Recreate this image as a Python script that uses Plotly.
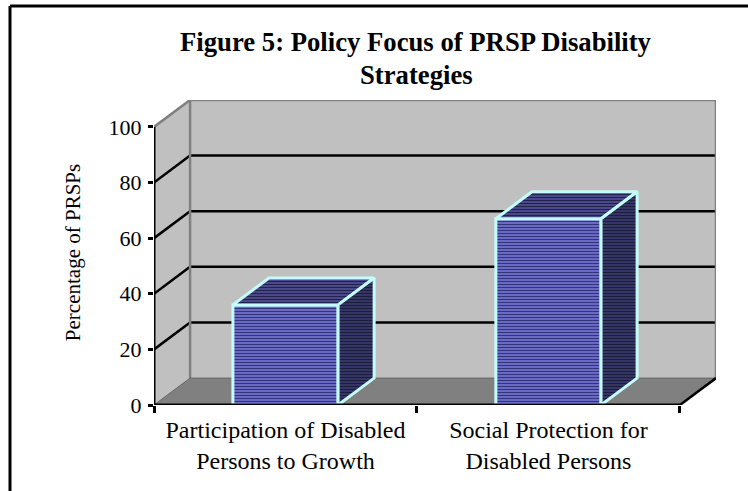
import plotly.graph_objects as go

title_lines = ["Figure 5: Policy Focus of PRSP Disability", "Strategies"]
y_title = "Percentage of PRSPs"
categories = ["Participation of Disabled<br>Persons to Growth", "Social Protection for<br>Disabled Persons"]
values = [36, 67]
y_ticks = [0, 20, 40, 60, 80, 100]

# Size of the plot box and the pseudo-3D depth, in pixels and axis units
WIDTH, HEIGHT = 748, 491
LEFT, RIGHT, TOP, BOTTOM = 154, 32, 100, 86
X0, X1 = -0.5, 1.5
Y0, Y1 = 0, 100
BAR_W = 0.4
DX = 36 / 262.5
DY = 27 / 2.79

WALL = "#c0c0c0"
FLOOR = "#808080"
EDGE = "#808080"
CYAN = "#c4fbfb"
FONT = "Liberation Serif"


def poly(xs, ys, fill, line=None, width=0):
    path = "M " + " L ".join(f"{x},{y}" for x, y in zip(xs, ys)) + " Z"
    return dict(type="path", path=path, xref="x", yref="y", layer="below",
                fillcolor=fill, line=dict(color=line or fill, width=width))


def seg(x0, y0, x1, y1, color, width):
    return dict(type="line", x0=x0, y0=y0, x1=x1, y1=y1, xref="x", yref="y",
                layer="below", line=dict(color=color, width=width))


shapes = [
    # Left wall, back wall and floor
    poly([X0, X0 + DX, X0 + DX, X0], [Y0, Y0 + DY, Y1 + DY, Y1], WALL),
    poly([X0 + DX, X1 + DX, X1 + DX, X0 + DX], [Y0 + DY, Y0 + DY, Y1 + DY, Y1 + DY], WALL),
    poly([X0, X1, X1 + DX, X0 + DX], [Y0, Y0, Y0 + DY, Y0 + DY], FLOOR),
]
# Gridlines wrap from the left wall on to the back wall
for v in y_ticks[1:-1]:
    shapes.append(seg(X0, v, X0 + DX, v + DY, "black", 2.5))
    shapes.append(seg(X0 + DX, v + DY, X1 + DX, v + DY, "black", 2.5))
shapes += [
    seg(X0, Y1, X0 + DX, Y1 + DY, EDGE, 2.5),
    seg(X0 + DX, Y1 + DY, X1 + DX, Y1 + DY, EDGE, 2.5),
    seg(X0 + DX, Y0 + DY, X0 + DX, Y1 + DY, EDGE, 2.5),
    seg(X1 + DX, Y0 + DY, X1 + DX, Y1 + DY, EDGE, 2.5),
    seg(X0 + DX, Y0 + DY, X1 + DX, Y0 + DY, "#666666", 1),
    seg(X0, Y0, X0 + DX, Y0 + DY, "#666666", 1),
    seg(X1, Y0, X1 + DX, Y0 + DY, "black", 2.5),
]
# Black page frame, running off the right and bottom of the page
plot_w = WIDTH - LEFT - RIGHT
plot_h = HEIGHT - TOP - BOTTOM
frame_x = (10 - LEFT) / plot_w
frame_y = 1 + (TOP - 6) / plot_h
shapes += [
    dict(type="line", xref="paper", yref="paper", x0=frame_x, x1=frame_x,
         y0=-1, y1=frame_y, line=dict(color="black", width=3)),
    dict(type="line", xref="paper", yref="paper", x0=frame_x, x1=2,
         y0=frame_y, y1=frame_y, line=dict(color="black", width=3)),
]

fig = go.Figure()

# Front faces of the columns
fig.add_trace(go.Bar(
    x=[0, 1], y=values, width=BAR_W, cliponaxis=False, showlegend=False,
    marker=dict(
        color="#7a7ad6",
        line=dict(color=CYAN, width=3),
        pattern=dict(shape="-", size=3, solidity=0.5, fgcolor="#34347c",
                     bgcolor="#7c7cdc", fillmode="replace"),
    ),
))

# Top and side faces of the columns
for i, v in enumerate(values):
    left, right = i - BAR_W / 2, i + BAR_W / 2
    fig.add_trace(go.Scatter(
        x=[left, right, right + DX, left + DX, left],
        y=[v, v, v + DY, v + DY, v],
        mode="lines", fill="toself", showlegend=False, cliponaxis=False,
        line=dict(color=CYAN, width=3),
        fillcolor="#33336e",
        fillpattern=dict(shape="-", size=3, solidity=0.55, fgcolor="#22224a",
                         bgcolor="#5a5aa8", fillmode="replace"),
        hoverinfo="skip",
    ))
    fig.add_trace(go.Scatter(
        x=[right, right + DX, right + DX, right, right],
        y=[0, DY, v + DY, v, 0],
        mode="lines", fill="toself", showlegend=False, cliponaxis=False,
        line=dict(color=CYAN, width=3),
        fillcolor="#2c2c58",
        fillpattern=dict(shape="-", size=3, solidity=0.6, fgcolor="#1c1c3c",
                         bgcolor="#464680", fillmode="replace"),
        hoverinfo="skip",
    ))

# Axis lines drawn on top so they stay crisp at the box edges
fig.add_trace(go.Scatter(x=[X0, X0, X1], y=[Y1, Y0, Y0], mode="lines", showlegend=False,
                         cliponaxis=False, line=dict(color="black", width=3), hoverinfo="skip"))

# Each title line is placed by its own baseline offset from the page top
title_tops = [25, 58]
annotations = [
    dict(text=f"<b>{line}</b>", xref="paper", yref="paper",
         x=(416 - LEFT) / plot_w, y=1 + (TOP - top) / plot_h,
         xanchor="center", yanchor="top", showarrow=False,
         font=dict(family=FONT, size=26.7, color="black"))
    for line, top in zip(title_lines, title_tops)
]

fig.update_layout(
    width=WIDTH, height=HEIGHT,
    margin=dict(l=LEFT, r=RIGHT, t=TOP, b=BOTTOM, autoexpand=False),
    paper_bgcolor="white", plot_bgcolor="white",
    font=dict(family=FONT, color="black"),
    shapes=shapes,
    annotations=annotations,
    xaxis=dict(
        range=[X0, X1 + DX], showgrid=False, zeroline=False, showline=False,
        tickmode="array", tickvals=[0, 1], ticktext=categories, ticks="", ticklabelstandoff=8,
        tickfont=dict(family=FONT, size=24, color="black"),
        minor=dict(tickmode="array", tickvals=[-0.5, 0.5, 1.5], ticks="outside",
                   ticklen=7, tickwidth=2.5, tickcolor="black", showgrid=False),
    ),
    yaxis=dict(
        range=[Y0, Y1 + DY], showgrid=False, zeroline=False, showline=False,
        tickmode="array", tickvals=y_ticks, ticks="outside", ticklen=5, tickwidth=2.5,
        ticklabelstandoff=2,
        tickcolor="black", tickfont=dict(family=FONT, size=22, color="black"),
        title=dict(text=y_title, standoff=22, font=dict(family=FONT, size=21, color="black")),
    ),
)

fig.write_html("out.html", config=dict(displayModeBar=False))
